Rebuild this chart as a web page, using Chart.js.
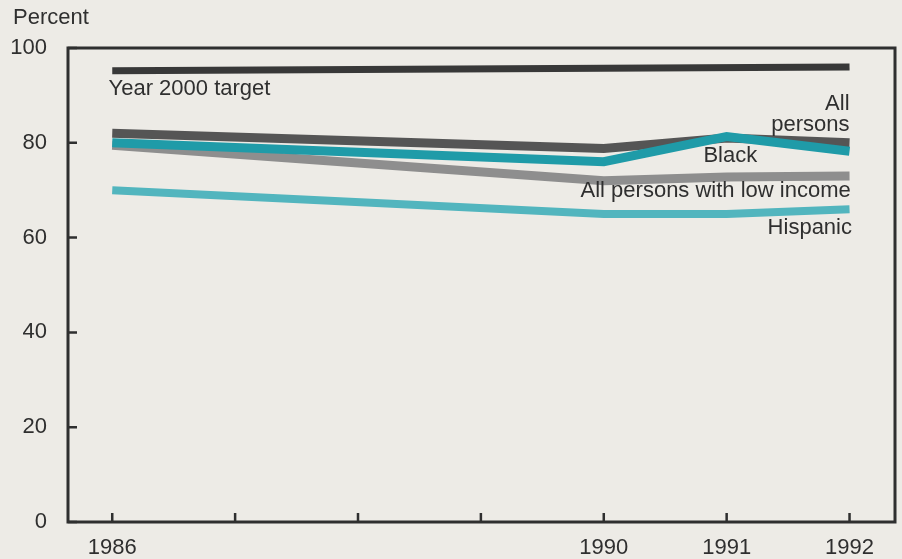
<!DOCTYPE html>
<html>
<head>
<meta charset="utf-8">
<script src="https://cdn.jsdelivr.net/npm/chart.js@4/dist/chart.umd.min.js"></script>
<style>
html,body{margin:0;padding:0;background:#edebe6;}
#wrap{width:902px;height:559px;position:relative;}
</style>
</head>
<body>
<div id="wrap"><canvas id="chart" width="902" height="559"></canvas></div>
<script>
// values
const years = [1986, 1990, 1991, 1992];
const allPersons = [82, 78.8, 81, 80];
const black = [80, 76, 81.3, 78.2];
const lowIncome = [79.5, 72, 72.8, 73];
const hispanic = [70, 65, 65, 66];
const targetYears = [1986, 1992];
const target = [95.2, 96];
const yTicks = [0, 20, 40, 60, 80, 100];
const labelledYears = [1986, 1990, 1991, 1992];

function pts(xs, ys) {
  return xs.map((x, i) => ({x: x, y: ys[i]}));
}

const fontFam = "'Liberation Sans', Arial, Helvetica, sans-serif";
const ink = "#2f2f2f";

// labels placed in data space
const notes = [
  {text: "Year 2000 target", x: 1985.97, y: 91.3, align: "left"},
  {text: "All", x: 1992.0, y: 88.3, align: "right"},
  {text: "persons", x: 1992.0, y: 83.8, align: "right"},
  {text: "Black", x: 1991.03, y: 77.2, align: "center"},
  {text: "All persons with low income", x: 1992.01, y: 69.8, align: "right"},
  {text: "Hispanic", x: 1992.02, y: 62.0, align: "right"}
];

const framePlugin = {
  id: "frame",
  afterDatasetsDraw(chart) {
    const ctx = chart.ctx;
    const a = chart.chartArea;
    const xs = chart.scales.x, ys = chart.scales.y;
    ctx.save();
    ctx.strokeStyle = ink;
    ctx.lineWidth = 3;
    ctx.strokeRect(a.left, a.top, a.right - a.left, a.bottom - a.top);
    ctx.lineWidth = 2.5;
    ctx.beginPath();
    yTicks.forEach(v => {
      const py = ys.getPixelForValue(v);
      ctx.moveTo(a.left, py); ctx.lineTo(a.left + 9, py);
    });
    for (let yr = 1986; yr <= 1992; yr++) {
      const px = xs.getPixelForValue(yr);
      ctx.moveTo(px, a.bottom); ctx.lineTo(px, a.bottom - 9);
    }
    ctx.stroke();

    ctx.fillStyle = ink;
    ctx.font = "22px " + fontFam;
    ctx.textBaseline = "middle";
    notes.forEach(n => {
      ctx.textAlign = n.align;
      ctx.fillText(n.text, xs.getPixelForValue(n.x), ys.getPixelForValue(n.y));
    });
    ctx.textAlign = "left";
    ctx.fillText("Percent", 13, 18);
    ctx.restore();
  }
};

new Chart(document.getElementById("chart").getContext("2d"), {
  type: "line",
  data: {
    datasets: [
      {label: "Year 2000 target", data: pts(targetYears, target), borderColor: "#383838", borderWidth: 7, order: 0},
      {label: "Black", data: pts(years, black), borderColor: "#1f9ba8", borderWidth: 9, order: 1},
      {label: "All persons", data: pts(years, allPersons), borderColor: "#555555", borderWidth: 9, order: 2},
      {label: "All persons with low income", data: pts(years, lowIncome), borderColor: "#8e8e8e", borderWidth: 9, order: 3},
      {label: "Hispanic", data: pts(years, hispanic), borderColor: "#52b5be", borderWidth: 8, order: 4}
    ]
  },
  options: {
    responsive: false,
    animation: false,
    layout: {padding: {top: 48, right: 7, left: 0, bottom: 0}},
    elements: {
      point: {radius: 0},
      line: {tension: 0, borderCapStyle: "butt", borderJoinStyle: "miter", fill: false}
    },
    plugins: {legend: {display: false}, tooltip: {enabled: false}},
    scales: {
      x: {
        type: "linear",
        min: 1985.64,
        max: 1992.37,
        afterFit(s) { s.height = 37; },
        afterBuildTicks(s) { s.ticks = labelledYears.map(v => ({value: v})); },
        grid: {display: false, drawTicks: false},
        border: {display: false},
        ticks: {
          padding: 13,
          maxRotation: 0,
          autoSkip: false,
          color: ink,
          font: {family: fontFam, size: 22},
          callback: v => String(v)
        }
      },
      y: {
        min: 0,
        max: 100,
        afterFit(s) { s.width = 68; },
        afterBuildTicks(s) { s.ticks = yTicks.map(v => ({value: v})); },
        grid: {display: false, drawTicks: false},
        border: {display: false},
        ticks: {
          padding: 21,
          color: ink,
          font: {family: fontFam, size: 22}
        }
      }
    }
  },
  plugins: [framePlugin]
});
</script>
</body>
</html>
